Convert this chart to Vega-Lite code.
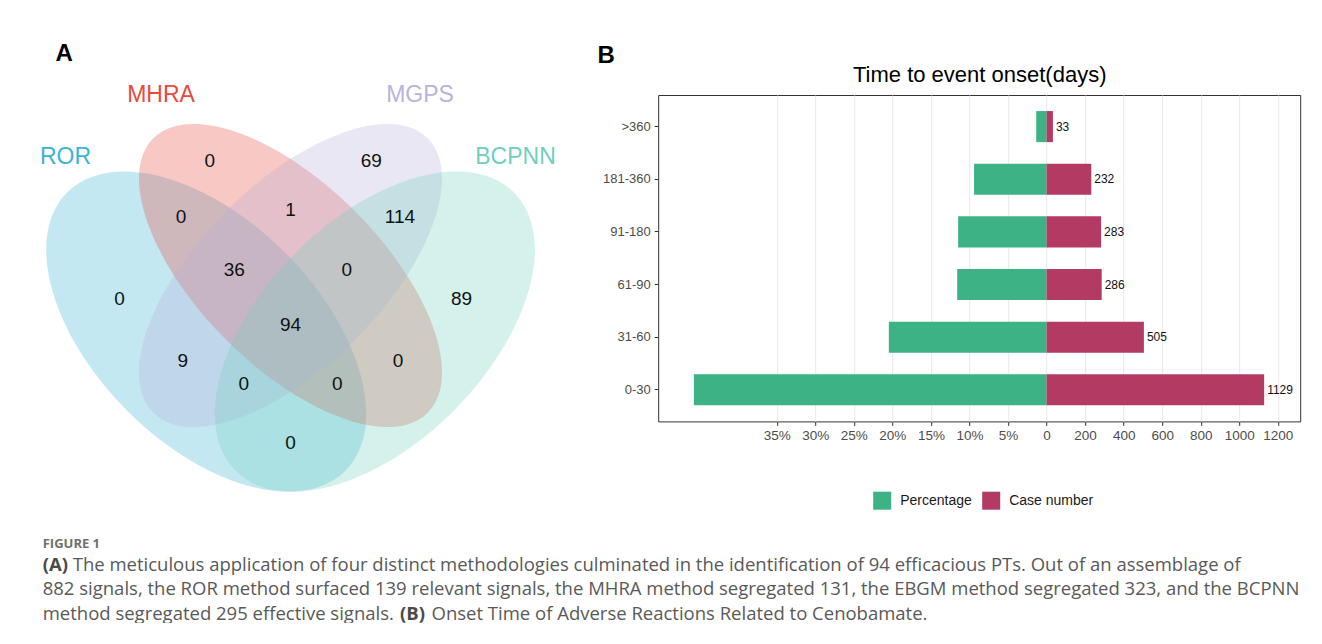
{
  "$schema": "https://vega.github.io/schema/vega-lite/v6.json",
  "padding": {"left": 9.5, "top": 42, "right": 0, "bottom": 0},
  "background": "white",
  "config": {"view": {"stroke": null}, "font": "Liberation Sans"},
  "datasets": {
    "sets": [
      {"set": "ROR", "u": 0.35, "v": 0.47, "lu": 0.0996, "lv": 0.7813},
      {"set": "MHRA", "u": 0.5, "v": 0.57, "lu": 0.2696, "lv": 0.8916},
      {"set": "MGPS", "u": 0.5, "v": 0.57, "lu": 0.7304, "lv": 0.8916},
      {"set": "BCPNN", "u": 0.65, "v": 0.47, "lu": 0.9004, "lv": 0.7813}
    ],
    "regions": [
      {"region": "MHRA only", "n": 0, "u": 0.3562, "v": 0.773},
      {"region": "MGPS only", "n": 69, "u": 0.6438, "v": 0.773},
      {"region": "ROR only", "n": 0, "u": 0.1956, "v": 0.5281},
      {"region": "BCPNN only", "n": 89, "u": 0.8044, "v": 0.5281},
      {"region": "ROR & MHRA", "n": 0, "u": 0.3052, "v": 0.674},
      {"region": "MHRA & MGPS", "n": 1, "u": 0.5, "v": 0.687},
      {"region": "MGPS & BCPNN", "n": 114, "u": 0.6948, "v": 0.674},
      {"region": "ROR & MHRA & MGPS", "n": 36, "u": 0.3998, "v": 0.5802},
      {"region": "MHRA & MGPS & BCPNN", "n": 0, "u": 0.6002, "v": 0.5802},
      {"region": "All four", "n": 94, "u": 0.5, "v": 0.4811},
      {"region": "ROR & MGPS", "n": 9, "u": 0.3085, "v": 0.4171},
      {"region": "MHRA & BCPNN", "n": 0, "u": 0.6915, "v": 0.4171},
      {"region": "ROR & MGPS & BCPNN", "n": 0, "u": 0.4169, "v": 0.3769},
      {"region": "ROR & MHRA & BCPNN", "n": 0, "u": 0.5831, "v": 0.3769},
      {"region": "ROR & BCPNN", "n": 0, "u": 0.5, "v": 0.2719}
    ],
    "onset": [
      {"onset": ">360", "count": 33, "pct": 1.34},
      {"onset": "181-360", "count": 232, "pct": 9.4},
      {"onset": "91-180", "count": 283, "pct": 11.47},
      {"onset": "61-90", "count": 286, "pct": 11.59},
      {"onset": "31-60", "count": 505, "pct": 20.46},
      {"onset": "0-30", "count": 1129, "pct": 45.75}
    ],
    "caption": [
      {"line": 0, "kind": "label", "text": "FIGURE 1"},
      {"line": 1, "kind": "boldA", "text": "(A)"},
      {"line": 1, "kind": "lead", "text": "The meticulous application of four distinct methodologies culminated in the identification of 94 efficacious PTs. Out of an assemblage of"},
      {"line": 2, "kind": "body", "text": "882 signals, the ROR method surfaced 139 relevant signals, the MHRA method segregated 131, the EBGM method segregated 323, and the BCPNN"},
      {"line": 3, "kind": "body", "text": "method segregated 295 effective signals."},
      {"line": 3, "kind": "boldB", "text": "(B)"},
      {"line": 3, "kind": "tail", "text": "Onset Time of Adverse Reactions Related to Cenobamate."}
    ]
  },
  "vconcat": [
    {
      "spacing": 24.7,
      "resolve": {"scale": {"color": "independent", "fill": "independent", "shape": "independent"}, "legend": {"color": "independent"}},
      "hconcat": [
        {
          "width": 562,
          "height": 326.4,
          "title": {"text": "A", "anchor": "start", "fontSize": 24, "fontWeight": "bold", "font": "Liberation Sans", "color": "#000000", "dx": 46, "offset": 17.3},
          "layer": [
            {
              "data": {"name": "sets"},
              "transform": [{"filter": "datum.set == 'ROR' || datum.set == 'MHRA'"}],
              "mark": {"type": "point", "filled": true, "fillOpacity": 0.3, "strokeWidth": 0, "angle": 45, "size": 160000},
              "encoding": {
                "x": {"field": "u", "type": "quantitative", "scale": {"domain": [0, 1], "nice": false, "zero": false}, "axis": null},
                "y": {"field": "v", "type": "quantitative", "scale": {"domain": [0.3103, 0.8911], "nice": false, "zero": false}, "axis": null},
                "shape": {"field": "set", "type": "nominal", "legend": null, "scale": {"domain": ["ROR", "MHRA", "MGPS", "BCPNN"], "range": [
                  "M0.984 0C0.984 0.3085 0.5435 0.5585 0 0.5585C-0.5435 0.5585 -0.984 0.3085 -0.984 0C-0.984 -0.3085 -0.5435 -0.5585 0 -0.5585C0.5435 -0.5585 0.984 -0.3085 0.984 0Z",
                  "M0.97 0C0.97 0.2513 0.5357 0.455 0 0.455C-0.5357 0.455 -0.97 0.2513 -0.97 0C-0.97 -0.2513 -0.5357 -0.455 0 -0.455C0.5357 -0.455 0.97 -0.2513 0.97 0Z",
                  "M0.97 0C0.97 0.2513 0.5357 0.455 0 0.455C-0.5357 0.455 -0.97 0.2513 -0.97 0C-0.97 -0.2513 -0.5357 -0.455 0 -0.455C0.5357 -0.455 0.97 -0.2513 0.97 0Z",
                  "M0.984 0C0.984 0.3085 0.5435 0.5585 0 0.5585C-0.5435 0.5585 -0.984 0.3085 -0.984 0C-0.984 -0.3085 -0.5435 -0.5585 0 -0.5585C0.5435 -0.5585 0.984 -0.3085 0.984 0Z"
                ]}},
                "fill": {"field": "set", "type": "nominal", "legend": null, "scale": {"domain": ["ROR", "MHRA", "MGPS", "BCPNN"], "range": ["#3BB3D3", "#E84A3B", "#B7B0DA", "#70D2BE"]}}
              }
            },
            {
              "data": {"name": "sets"},
              "transform": [{"filter": "datum.set == 'MGPS' || datum.set == 'BCPNN'"}],
              "mark": {"type": "point", "filled": true, "fillOpacity": 0.3, "strokeWidth": 0, "angle": 135, "size": 160000},
              "encoding": {
                "x": {"field": "u", "type": "quantitative"},
                "y": {"field": "v", "type": "quantitative"},
                "shape": {"field": "set", "type": "nominal", "legend": null},
                "fill": {"field": "set", "type": "nominal", "legend": null}
              }
            },
            {
              "data": {"name": "sets"},
              "mark": {"type": "text", "fontSize": 23, "font": "Liberation Sans"},
              "encoding": {
                "x": {"field": "lu", "type": "quantitative"},
                "y": {"field": "lv", "type": "quantitative"},
                "text": {"field": "set"},
                "color": {"field": "set", "type": "nominal", "legend": null, "scale": {"domain": ["ROR", "MHRA", "MGPS", "BCPNN"], "range": ["#3BB3D3", "#E84A3B", "#B9B3DC", "#6FCFBB"]}}
              }
            },
            {
              "data": {"name": "regions"},
              "mark": {"type": "text", "fontSize": 19, "font": "Liberation Sans", "color": "#111111"},
              "encoding": {
                "x": {"field": "u", "type": "quantitative"},
                "y": {"field": "v", "type": "quantitative"},
                "text": {"field": "n"}
              }
            }
          ]
        },
        {
          "width": 642,
          "height": 326.4,
          "view": {"stroke": "#333333", "strokeWidth": 1},
          "title": {"text": "B", "anchor": "start", "frame": "bounds", "fontSize": 24, "fontWeight": "bold", "font": "Liberation Sans", "color": "#000000", "dx": -5, "offset": -4},
          "data": {"name": "onset"},
          "encoding": {
            "y": {
              "field": "onset", "type": "nominal",
              "sort": [">360", "181-360", "91-180", "61-90", "31-60", "0-30"],
              "scale": {"paddingInner": 0.41, "paddingOuter": 0.305},
              "axis": {"title": null, "domain": false, "tickSize": 4, "tickColor": "#333333", "labelFontSize": 13, "labelColor": "#4D4D4D", "labelPadding": 4}
            }
          },
          "layer": [
            {
              "mark": {"type": "bar"},
              "encoding": {
                "x": {"field": "pct", "type": "quantitative", "scale": {"domain": [50.375, -32.9], "nice": false, "zero": false},
                  "axis": {"orient": "top", "title": "Time to event onset(days)", "titleFontSize": 22, "titleFontWeight": "normal", "titleColor": "#000000", "titleFont": "Liberation Sans", "labels": false, "ticks": false, "domain": false, "grid": false, "titlePadding": 8.3}},
                "color": {"datum": "Percentage", "type": "nominal",
                  "scale": {"domain": ["Percentage", "Case number"], "range": ["#3CB285", "#B33A63"]},
                  "legend": {"title": null, "orient": "none", "legendX": 215, "legendY": 396.7, "direction": "horizontal", "symbolType": "square", "symbolSize": 324, "symbolStrokeWidth": 0, "labelFontSize": 14, "labelColor": "#1a1a1a", "labelFont": "Liberation Sans", "columnPadding": 10, "labelOffset": 9}}
              }
            },
            {
              "mark": {"type": "bar"},
              "encoding": {
                "x": {"field": "count", "type": "quantitative", "scale": {"domain": [-2015, 1316], "nice": false, "zero": false},
                  "axis": {"orient": "bottom", "title": null, "values": [-1400, -1200, -1000, -800, -600, -400, -200, 0, 200, 400, 600, 800, 1000, 1200],
                    "labelExpr": "datum.value < 0 ? format(-datum.value / 40, 'd') + '%' : format(datum.value, 'd')",
                    "grid": true, "gridColor": "#E8E8E8", "domain": false, "tickSize": 4, "tickColor": "#333333", "labelFontSize": 13.5, "labelColor": "#4D4D4D", "labelPadding": 3, "labelOverlap": false, "labelFlush": false}},
                "color": {"datum": "Case number", "type": "nominal"}
              }
            },
            {
              "mark": {"type": "text", "align": "left", "baseline": "middle", "dx": 3, "fontSize": 12, "font": "Liberation Sans", "color": "#111111"},
              "encoding": {
                "x": {"field": "count", "type": "quantitative", "scale": {"domain": [-2015, 1316], "nice": false, "zero": false}, "axis": null},
                "text": {"field": "count"}
              }
            }
          ],
          "resolve": {"scale": {"x": "independent"}, "axis": {"x": "independent"}}
        }
      ]
    },
    {
      "width": 1280,
      "height": 73.5,
      "data": {"name": "caption"},
      "encoding": {
        "x": {"datum": 0, "type": "quantitative", "scale": {"domain": [0, 1]}, "axis": null},
        "y": {"field": "line", "type": "quantitative", "scale": {"domain": [0, 3], "reverse": true, "nice": false}, "axis": null},
        "text": {"field": "text"}
      },
      "layer": [
        {"transform": [{"filter": "datum.kind == 'label'"}], "mark": {"type": "text", "align": "left", "font": "Open Sans", "fontWeight": "bold", "fontSize": 13, "color": "#707070", "dx": 33.2, "dy": 4}},
        {"transform": [{"filter": "datum.kind == 'boldA'"}], "mark": {"type": "text", "align": "left", "font": "Open Sans", "fontWeight": "bold", "fontSize": 18.5, "color": "#4a4a4a", "dx": 33.2}},
        {"transform": [{"filter": "datum.kind == 'lead'"}], "mark": {"type": "text", "align": "left", "font": "Open Sans", "fontSize": 18.5, "color": "#595959", "dx": 63.2}},
        {"transform": [{"filter": "datum.kind == 'body'"}], "mark": {"type": "text", "align": "left", "font": "Open Sans", "fontSize": 18.5, "color": "#595959", "dx": 33.2}},
        {"transform": [{"filter": "datum.kind == 'boldB'"}], "mark": {"type": "text", "align": "left", "font": "Open Sans", "fontWeight": "bold", "fontSize": 18.5, "color": "#4a4a4a", "dx": 390.5}},
        {"transform": [{"filter": "datum.kind == 'tail'"}], "mark": {"type": "text", "align": "left", "font": "Open Sans", "fontSize": 18.5, "color": "#595959", "dx": 422}}
      ]
    }
  ],
  "spacing": 27
}
